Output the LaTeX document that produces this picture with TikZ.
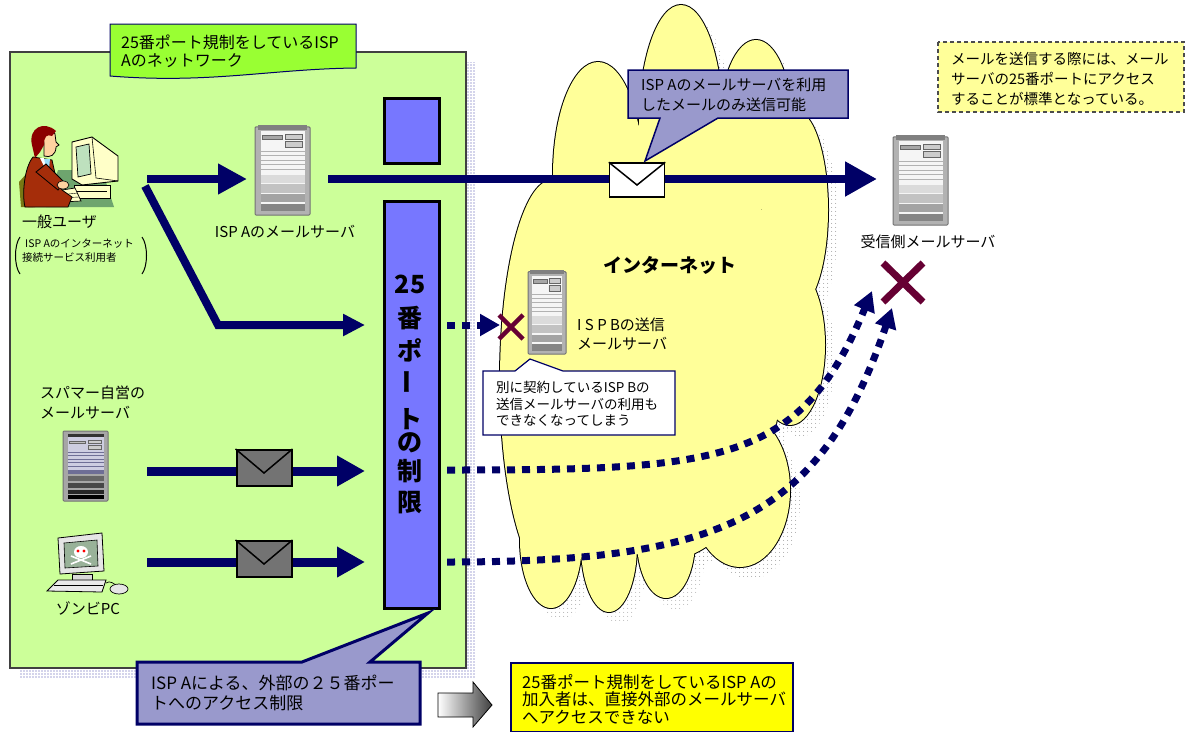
\documentclass[tikz,border=0pt]{standalone}
\usepackage{fontspec}
\setmainfont{Noto Sans CJK JP}
\usetikzlibrary{arrows.meta,patterns,patterns.meta}
\definecolor{navy}{RGB}{0,0,102}
\definecolor{blockblue}{RGB}{119,119,255}
\definecolor{callblue}{RGB}{153,153,204}
\definecolor{regiongreen}{RGB}{204,255,153}
\definecolor{labelgreen}{RGB}{153,255,51}
\definecolor{cloudyellow}{RGB}{255,255,153}
\definecolor{boxyellow}{RGB}{255,255,0}
\definecolor{xred}{RGB}{102,0,51}
\definecolor{shadowblue}{RGB}{70,70,170}
\definecolor{jacket}{RGB}{165,45,10}
\definecolor{hair}{RGB}{140,0,0}
\definecolor{skin}{RGB}{255,210,160}
\definecolor{beige}{RGB}{255,255,200}
\definecolor{deskgreen}{RGB}{110,165,110}
\definecolor{chairolive}{RGB}{120,120,20}
\definecolor{darkband}{RGB}{110,110,150}
\definecolor{lightband}{RGB}{205,205,225}
\definecolor{screengreen}{RGB}{190,225,190}

\newcommand\srvlight[4]{%
\begin{scope}[shift={(#1,#2)},x=#3pt,y=-#4pt]
\draw[draw=black!55,fill=black!30,line width=1pt,rounded corners=1pt] (0,0.02) rectangle (1,1);
\fill[black!50] (0.06,0) rectangle (0.94,0.05);
\fill[black!4] (0.1,0.07) rectangle (0.9,0.96);
\draw[black!60,fill=black!35,line width=0.5pt] (0.14,0.11) rectangle (0.5,0.16);
\draw[black!60,fill=black!20,line width=0.5pt] (0.55,0.1) rectangle (0.86,0.16) (0.55,0.18) rectangle (0.86,0.25);
\foreach \yy in {0.29,0.34,0.39,0.44,0.49}{\draw[black!30,line width=0.6pt] (0.1,\yy) -- (0.9,\yy);}
\fill[black!14] (0.1,0.55) rectangle (0.9,0.64);
\fill[black!24] (0.1,0.66) rectangle (0.9,0.75);
\fill[black!36] (0.1,0.77) rectangle (0.9,0.86);
\fill[black!48] (0.1,0.88) rectangle (0.9,0.96);
\end{scope}}

\newcommand\srvdark[4]{%
\begin{scope}[shift={(#1,#2)},x=#3pt,y=-#4pt]
\draw[draw=black!55,fill=black!35,line width=1pt,rounded corners=1pt] (0,0) rectangle (1,1);
\fill[lightband] (0.1,0.04) rectangle (0.9,0.55);
\fill[black!80] (0.1,0.04) rectangle (0.9,0.09);
\draw[black!60,fill=black!25,line width=0.5pt] (0.14,0.14) rectangle (0.5,0.18);
\draw[black!60,fill=black!20,line width=0.5pt] (0.55,0.13) rectangle (0.86,0.18) (0.55,0.2) rectangle (0.86,0.26);
\foreach \yy in {0.3,0.35,0.4,0.45,0.5}{\draw[darkband,line width=0.7pt] (0.1,\yy) -- (0.9,\yy);}
\fill[darkband] (0.1,0.55) rectangle (0.9,0.62);
\fill[black!60] (0.1,0.64) rectangle (0.9,0.72);
\fill[black!72] (0.1,0.74) rectangle (0.9,0.82);
\fill[black!85] (0.1,0.84) rectangle (0.9,0.9);
\fill[black] (0.1,0.91) rectangle (0.9,0.97);
\end{scope}}

\begin{document}
\begin{tikzpicture}[x=1pt,y=-1pt,
  bigarrow/.style={draw=navy,line width=8pt,-{Triangle[length=29pt,width=29pt]}},
  dotarrow/.style={draw=navy,line width=7pt,dash pattern=on 8pt off 7pt,-{Triangle[length=20pt,width=21pt]}},
  block/.style={draw=black,line width=3pt,fill=blockblue,inner sep=0pt,anchor=north west},
  vt/.style={font=\fontsize{25}{25}\selectfont\bfseries,inner sep=0pt},
  lbl/.style={inner sep=0pt,align=left,anchor=west},
  envwhite/.style={draw=black,line width=1.5pt,fill=white,minimum width=55pt,minimum height=34pt,inner sep=0pt},
  envgray/.style={draw=black,line width=2pt,fill=black!55,minimum width=55pt,minimum height=36pt,inner sep=0pt},
  envv/.style={draw=black,line width=1.5pt},
  bigx/.style={draw=xred,line width=7pt},
  smallx/.style={draw=xred,line width=4.5pt},
  fA/.style={font=\fontsize{15}{20}\selectfont},
]
\useasboundingbox (0,0) rectangle (1185,731);

% ---------- ISP A network region ----------
\fill[pattern={Dots[radius=0.7pt,distance=3pt]},pattern color=shadowblue] (20,62) rectangle (475,678);
\draw[draw=black!75,line width=1.2pt,fill=regiongreen] (10,52) rectangle (466,668);

% label of region
\draw[draw=navy,line width=1pt,fill=labelgreen] (110,24) -- (356,24) -- (356,68)
  .. controls (270,69) and (210,84) .. (110,76) -- cycle;
\node[lbl,font=\fontsize{16}{18}\selectfont] (netlabel) at (121,51) {25番ポート規制をしているISP\\Aのネットワーク};

% ---------- cloud ----------
\foreach \cx/\cy/\rx/\ry in {681/125/42/120,756/125/36/85,795/210/33/100,790/345/35/80,598/175/45/113,552/380/52/200,665/340/120/220,551/540/31/68,609/545/28/67,666/540/29/58,740/490/50/77}{
  \fill[pattern={Dots[radius=0.6pt,distance=4pt]},pattern color=black!40] ({\cx+10},{\cy+12}) ellipse [x radius=\rx,y radius=\ry];}
\foreach \cx/\cy/\rx/\ry in {681/125/42/120,756/125/36/85,795/210/33/100,790/345/35/80,598/175/45/113,552/380/52/200,665/340/120/220,551/540/31/68,609/545/28/67,666/540/29/58,740/490/50/77}{
  \filldraw[draw=black,line width=2pt,fill=cloudyellow] (\cx,\cy) ellipse [x radius=\rx,y radius=\ry];}
\foreach \cx/\cy/\rx/\ry in {681/125/42/120,756/125/36/85,795/210/33/100,790/345/35/80,598/175/45/113,552/380/52/200,665/340/120/220,551/540/31/68,609/545/28/67,666/540/29/58,740/490/50/77}{
  \fill[cloudyellow] (\cx,\cy) ellipse [x radius=\rx,y radius=\ry];}
\node[font=\fontsize{19}{19}\selectfont\bfseries,inner sep=0pt] (inet) at (670,265) {インターネット};

% ---------- general user clipart ----------
\fill[chairolive] (19,182) -- (28,172) -- (33,207) -- (21,207) -- cycle;
\fill[red!75!black] (25,188) -- (31,184) -- (35,207) -- (28,207) -- cycle;
\fill[deskgreen] (58,170) -- (102,170) -- (114,207) -- (46,207) -- cycle;
\draw[fill=beige,line width=0.9pt] (72,142) -- (92,137) -- (118,156) -- (118,181) -- (82,185) -- (72,179) -- cycle;
\draw[line width=0.6pt] (92,137) -- (96,178) -- (118,181);
\draw[fill=screengreen,line width=0.7pt] (76,147) -- (89,144) -- (91,174) -- (78,177) -- cycle;
\draw[fill=beige,line width=0.8pt] (74,185) rectangle (110,198);
\draw[line width=0.6pt] (77,191) -- (107,191);
\draw[fill=beige,line width=0.7pt] (56,191) -- (75,188) -- (81,201) -- (62,202) -- cycle;
\draw[line width=0.4pt] (59,195) -- (78,193) (60,198) -- (79,197);
\draw[fill=jacket,line width=0.8pt] (33,157) .. controls (24,168) and (22,195) .. (25,207) -- (68,207) -- (72,197) -- (62,190) -- (56,178) -- (52,160) -- cycle;
\fill[cyan!40] (43,159) -- (50,159) -- (48,178) -- cycle;
\fill[white] (40,158) -- (44,158) -- (46,170) -- cycle;
\draw[fill=jacket,line width=0.8pt] (36,172) -- (58,190) -- (64,182) -- (46,164) -- cycle;
\draw[fill=skin,line width=0.6pt] (63,185) ellipse [x radius=6,y radius=4];
\draw[fill=skin,line width=0.8pt] (44,143) .. controls (40,128) and (52,126) .. (55,134) -- (56,142) -- (59,145) -- (56,147) .. controls (56,155) and (50,158) .. (44,156) -- cycle;
\fill[hair] (32,145) .. controls (28,128) and (44,120) .. (56,131) -- (52,136) .. controls (47,134) and (44,136) .. (44,145) -- (40,152) -- (35,158) -- cycle;

\node[lbl,fA] (user) at (22,222) {一般ユーザ};
\draw[line width=1pt] (20,237) .. controls (14,245) and (14,266) .. (20,274);
\draw[line width=1pt] (142,237) .. controls (148,245) and (148,266) .. (142,274);
\node[lbl,font=\fontsize{10.5}{14}\selectfont] (usersub) at (22,251) {\hspace{3pt}ISP Aのインターネット\\接続サービス利用者};

% ---------- ISP A mail server ----------
\srvlight{255}{125}{55}{90}
\node[fA,inner sep=0pt] (srvAlabel) at (285,232) {ISP Aのメールサーバ};

% ---------- blocks ----------
\node[block,minimum width=55pt,minimum height=65pt] (blkTop) at (383,97) {};
\node[block,minimum width=55pt,minimum height=407pt] (blkTall) at (383,200) {};
\node[vt] (v1) at (410,284) {25};
\node[vt] (v2) at (410,318) {番};
\node[vt] (v3) at (410,350) {ポ};
\node[vt,rotate=90] (v4) at (410,382) {ー};
\node[vt] (v5) at (410,419) {ト};
\node[vt] (v6) at (410,443) {の};
\node[vt] (v7) at (410,471) {制};
\node[vt] (v8) at (410,502) {限};

% ---------- coordinates for connectors ----------
\coordinate (userOut) at (147,179);
\coordinate (srvAin) at (247,179);
\coordinate (srvAout) at (328,179);
\coordinate (rcvIn) at (877,179);
\coordinate (diagStart) at (145,186);
\coordinate (diagBend) at (218,325);
\coordinate (blockIn1) at (365,325);
\coordinate (spamOut) at (147,471);
\coordinate (blockIn2) at (365,471);
\coordinate (zombOut) at (147,562);
\coordinate (blockIn3) at (365,562);
\coordinate (blkOut1) at (447,325);
\coordinate (ispBin) at (500,325);
\coordinate (blkOut2) at (447,470);
\coordinate (rcvTip1) at (872,291);
\coordinate (blkOut3) at (447,562);
\coordinate (rcvTip2) at (892,308);

% ---------- solid arrows ----------
\draw[bigarrow] (userOut) -- (srvAin);
\draw[bigarrow,-{Triangle[length=32pt,width=33pt]}] (srvAout) -- (rcvIn);
\draw[bigarrow,-{Triangle[length=22pt,width=21pt]},line join=miter] (diagStart) -- (diagBend) -- (blockIn1);
\draw[bigarrow,line width=9pt,-{Triangle[length=28pt,width=29pt]}] (spamOut) -- (blockIn2);
\draw[bigarrow,line width=9pt,-{Triangle[length=28pt,width=29pt]}] (zombOut) -- (blockIn3);

% envelopes
\node[envwhite] (env1) at (637,180) {};
\draw[envv] (env1.north west) -- ([yshift=-5pt]env1.center) -- (env1.north east);
\node[envgray] (env2) at (264,468) {};
\draw[envv] (env2.north west) -- ([yshift=-5pt]env2.center) -- (env2.north east);
\node[envgray] (env3) at (264,559) {};
\draw[envv] (env3.north west) -- ([yshift=-5pt]env3.center) -- (env3.north east);

% ---------- dotted arrows ----------
\draw[dotarrow] (blkOut1) -- (ispBin);
\draw[dotarrow] (blkOut2) .. controls (720,470) and (800,465) .. (rcvTip1);
\draw[dotarrow] (blkOut3) .. controls (720,562) and (820,520) .. (rcvTip2);

% ---------- ISP B server ----------
\srvlight{528}{270}{38}{84}
\node[lbl,fA,font=\fontsize{15}{18.5}\selectfont] (ispBlabel) at (577,334) {I S P Bの送信\\メールサーバ};
\draw[smallx] (499,315) -- (523,339) (523,315) -- (499,339);

% ---------- receiving server ----------
\srvlight{893}{135}{55}{90}
\node[fA,inner sep=0pt] (rcvlabel) at (928,242) {受信側メールサーバ};
\draw[bigx] (883,263) -- (923,302) (923,263) -- (883,302);

% ---------- spammer server and zombie PC ----------
\node[lbl,fA] (spamlabel) at (40,403) {スパマー自営の\\メールサーバ};
\srvdark{63}{431}{45}{70}
\draw[fill=black!10,line width=0.8pt] (58,538) -- (102,533) -- (104,571) -- (60,574) -- cycle;
\draw[fill=green!25!black!40,line width=0.6pt] (64,543) -- (97,540) -- (98,566) -- (65,568) -- cycle;
\draw[white,line width=1.6pt] (71,564) -- (91,556) (71,556) -- (91,564);
\fill[white] (81,552) ellipse [x radius=7,y radius=6];
\fill[red] (78,551) circle [radius=1.6] (84,551) circle [radius=1.6];
\draw[fill=black!15,line width=0.7pt] (72,574) rectangle (92,580);
\draw[fill=black!8,line width=0.8pt] (47,591) -- (58,580) -- (106,580) -- (102,592) -- cycle;
\draw[line width=0.6pt] (54,585) -- (103,585);
\draw[line width=0.7pt] (106,583) .. controls (110,580) and (114,584) .. (116,585);
\draw[fill=black!10,line width=0.7pt] (119,589) ellipse [x radius=9,y radius=5];
\node[fA,inner sep=0pt] (zomblabel) at (88,608) {ゾンビPC};

% ---------- callouts ----------
\draw[draw=navy,line width=1.5pt,fill=callblue] (628,70) -- (848,70) -- (848,118) -- (718,118) -- (645,161) -- (660,118) -- (628,118) -- cycle;
\node[lbl,fA] (callA) at (641,95) {ISP Aのメールサーバを利用\\したメールのみ送信可能};

\draw[draw=navy,line width=1.2pt,fill=white] (483,371) -- (515,371) -- (530,359) -- (563,371) -- (675,371) -- (675,435) -- (483,435) -- cycle;
\node[lbl,font=\fontsize{13.5}{16.5}\selectfont] (callB) at (496,404) {別に契約しているISP Bの\\送信メールサーバの利用も\\できなくなってしまう};

\draw[draw=navy,line width=3pt,fill=callblue] (137,662) -- (302,662) -- (428,613) -- (370,662) -- (420,662) -- (420,724) -- (137,724) -- cycle;
\node[lbl,font=\fontsize{17}{20}\selectfont] (callC) at (151,693) {ISP Aによる、外部の２５番ポー\\トへのアクセス制限};

% note top right
\draw[draw=black!70,line width=1.2pt,dash pattern=on 4pt off 3pt,fill=cloudyellow] (938,42) rectangle (1184,112);
\node[lbl,font=\fontsize{14.5}{20}\selectfont] (note) at (951,79) {メールを送信する際には、メール\\サーバの25番ポートにアクセス\\することが標準となっている。};

% gradient arrow
\shadedraw[left color=white,right color=black!75,draw=black,line width=0.8pt] (438,693) -- (473,693) -- (473,682) -- (492,705) -- (473,727) -- (473,717) -- (438,717) -- cycle;
\coordinate (gradTip) at (492,705);

% bottom yellow box
\draw[draw=navy,line width=1.2pt,fill=boxyellow] (511,663) rectangle (793,732);
\node[lbl,font=\fontsize{16.5}{17.5}\selectfont] (result) at (522,699) {25番ポート規制をしているISP Aの\\加入者は、直接外部のメールサーバ\\へアクセスできない};
\end{tikzpicture}
\end{document}
